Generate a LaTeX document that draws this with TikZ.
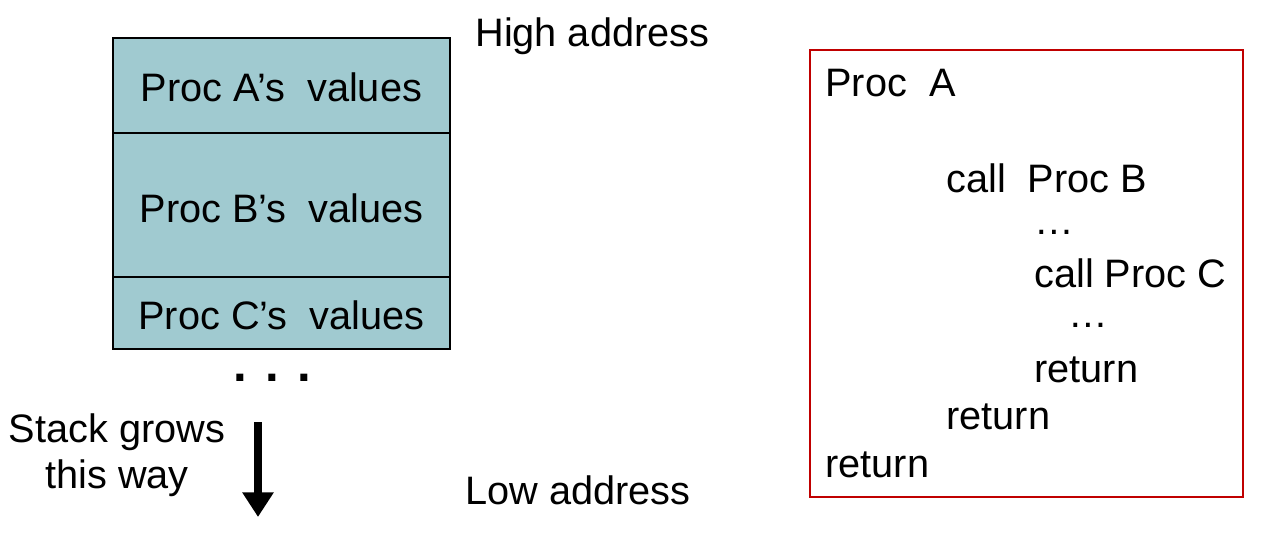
\documentclass[tikz,border=0pt]{standalone}
\usepackage{fontspec}
\setmainfont{Liberation Sans}
\usetikzlibrary{arrows.meta}
\definecolor{stackfill}{HTML}{A0CAD0}
\definecolor{codered}{HTML}{C00000}
\tikzstyle{txt} = [anchor=west,inner sep=0pt,font=\fontsize{22.6}{26}\selectfont]
\tikzstyle{frame} = [draw,fill=stackfill,line width=0.8pt]

\begin{document}
\begin{tikzpicture}[x=0.02cm,y=-0.02cm]
        \useasboundingbox (0,0) rectangle (1273,536);
        % stack frames
        \draw[frame] (113,38) rectangle (450,133);
        \draw[frame] (113,133) rectangle (450,277);
        \draw[frame] (113,277) rectangle (450,349);
        \node[txt, anchor=center] (A) at (281.5,87) {Proc A’s\ \ values};
        \node[txt, anchor=center] (B) at (281.5,208) {Proc B’s\ \ values};
        \node[txt, anchor=center] (C) at (281.5,315) {Proc C’s\ \ values};
        \node[font=\fontsize{28}{30}\selectfont\bfseries] (dots) at (272,378) {. . .};

        \node[txt] (high) at (475,36) {High address};
        \node[txt] (low) at (465,490) {Low address};
        \node[txt, anchor=center, align=center] (grow) at (117,455) {Stack grows\\this way};

        \coordinate (top) at (258,422);
        \coordinate (bot) at (258,517);
        \draw[line width=5pt, -{Triangle[length=14pt,width=17pt]}] (top) -- (bot);

        % code listing
        \draw[codered, line width=0.8pt] (810,50) rectangle (1243,497);
        \node[txt] (pa) at (825,83) {Proc\ \ A};
        \node[txt] (cb) at (946,178) {call\ \ Proc B};
        \node[txt] (d1) at (1034,232) {…};
        \node[txt] (cc) at (1034,273) {call Proc C};
        \node[txt] (d2) at (1068,325) {…};
        \node[txt] (r1) at (1034,370) {return};
        \node[txt] (r2) at (946,417) {return};
        \node[txt] (r3) at (825,465) {return};
\end{tikzpicture}
\end{document}
